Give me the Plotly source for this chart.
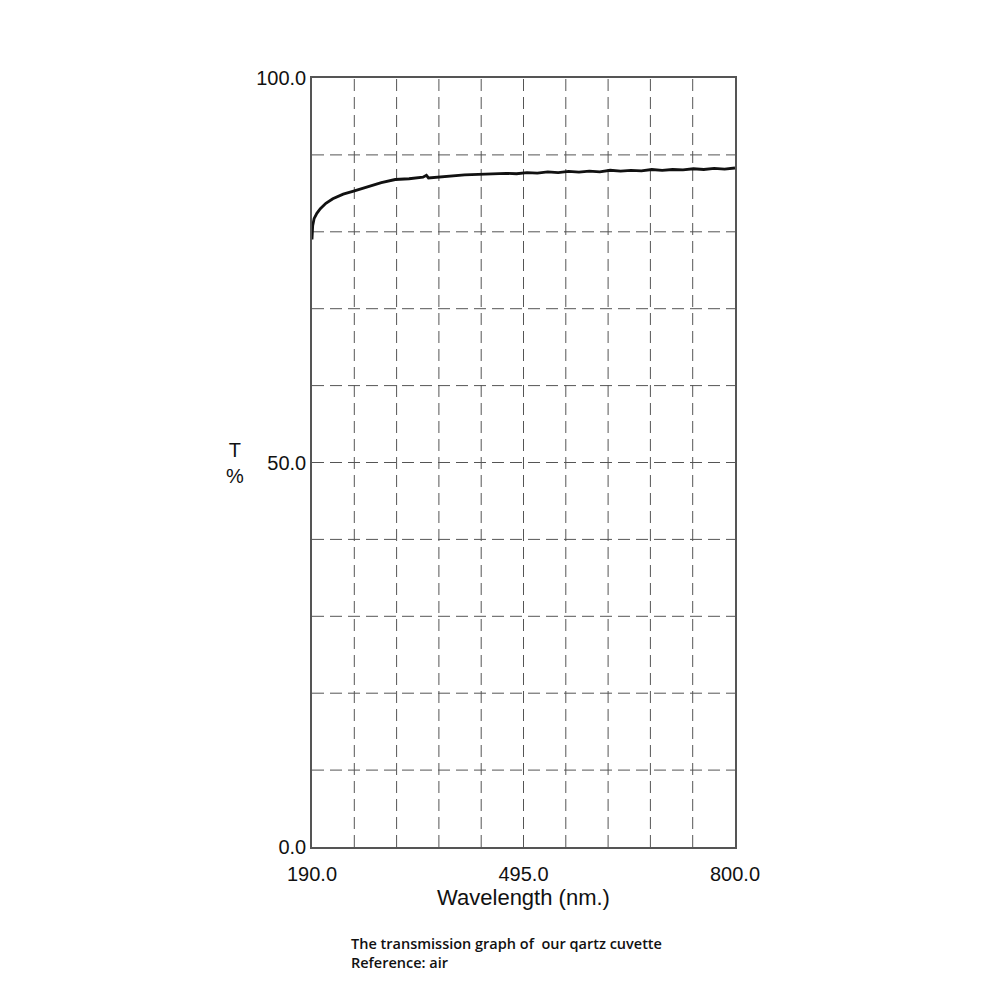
import plotly.graph_objects as go

# Transmission spectrum of the quartz cuvette (reference: air)
wavelength = [190, 191, 193, 197, 202, 210, 220, 235, 250, 270, 290, 310,
              330, 350, 355, 358, 380, 410, 440, 470, 485, 500, 515, 530,
              545, 560, 575, 590, 605, 620, 635, 650, 665, 680, 695, 710,
              725, 740, 755, 770, 785, 800]
transmission = [79.0, 80.8, 81.7, 82.4, 83.0, 83.7, 84.3, 84.9, 85.3, 85.9,
                86.4, 86.8, 86.9, 87.1, 87.35, 87.0, 87.2, 87.4, 87.5, 87.6,
                87.55, 87.7, 87.62, 87.8, 87.7, 87.85, 87.75, 87.9, 87.8,
                88.0, 87.88, 88.0, 87.92, 88.1, 87.98, 88.1, 88.05, 88.2,
                88.1, 88.25, 88.15, 88.3]

x_ticks = [190.0, 495.0, 800.0]
y_ticks = [0.0, 50.0, 100.0]
x_grid = [190 + 61 * i for i in range(1, 10)]
y_grid = [10 * i for i in range(1, 10)]

fig = go.Figure()

# dashed grid drawn as shapes
for gx in x_grid:
    fig.add_shape(type="line", x0=gx, x1=gx, y0=0, y1=100, xref="x", yref="y",
                  line=dict(color="#555555", width=1, dash="12px,6px"), layer="below")
for gy in y_grid:
    fig.add_shape(type="line", x0=190, x1=800, y0=gy, y1=gy, xref="x", yref="y",
                  line=dict(color="#555555", width=1, dash="12px,6px"), layer="below")

fig.add_trace(go.Scatter(
    x=wavelength, y=transmission, mode="lines",
    line=dict(color="#111111", width=2.8), showlegend=False
))

font = "Liberation Sans, Arial, sans-serif"

fig.update_xaxes(
    range=[190, 800], tickvals=x_ticks, ticktext=["190.0", "495.0", "800.0"],
    showgrid=False, zeroline=False, showline=True, linecolor="#555555",
    linewidth=1.5, mirror=True, ticks="outside", ticklen=8, tickcolor="white",
    tickfont=dict(family=font, size=20, color="#111111"),
    title=dict(text="Wavelength (nm.)", standoff=6,
               font=dict(family=font, size=22, color="#111111"))
)
fig.update_yaxes(
    range=[0, 100], tickvals=y_ticks, ticktext=["0.0", "50.0", "100.0"],
    showgrid=False, zeroline=False, showline=True, linecolor="#555555",
    linewidth=1.5, mirror=True, ticks="",
    tickfont=dict(family=font, size=20, color="#111111")
)

fig.add_annotation(text="T<br>%", xref="paper", yref="paper",
                   x=-0.182, y=0.5, xanchor="center", yanchor="middle",
                   showarrow=False, align="center",
                   font=dict(family=font, size=20, color="#111111"))
fig.add_annotation(text="The transmission graph of  our qartz cuvette<br>Reference: air",
                   xref="paper", yref="paper", x=0.087, y=-0.11,
                   xanchor="left", yanchor="top", showarrow=False, align="left",
                   font=dict(family="Open Sans, sans-serif", size=14.5,
                             color="#111111", weight=600))

fig.update_layout(
    width=1000, height=1000,
    margin=dict(l=304, r=273, t=70, b=161),
    plot_bgcolor="white", paper_bgcolor="white"
)

fig.write_html("out.html")
